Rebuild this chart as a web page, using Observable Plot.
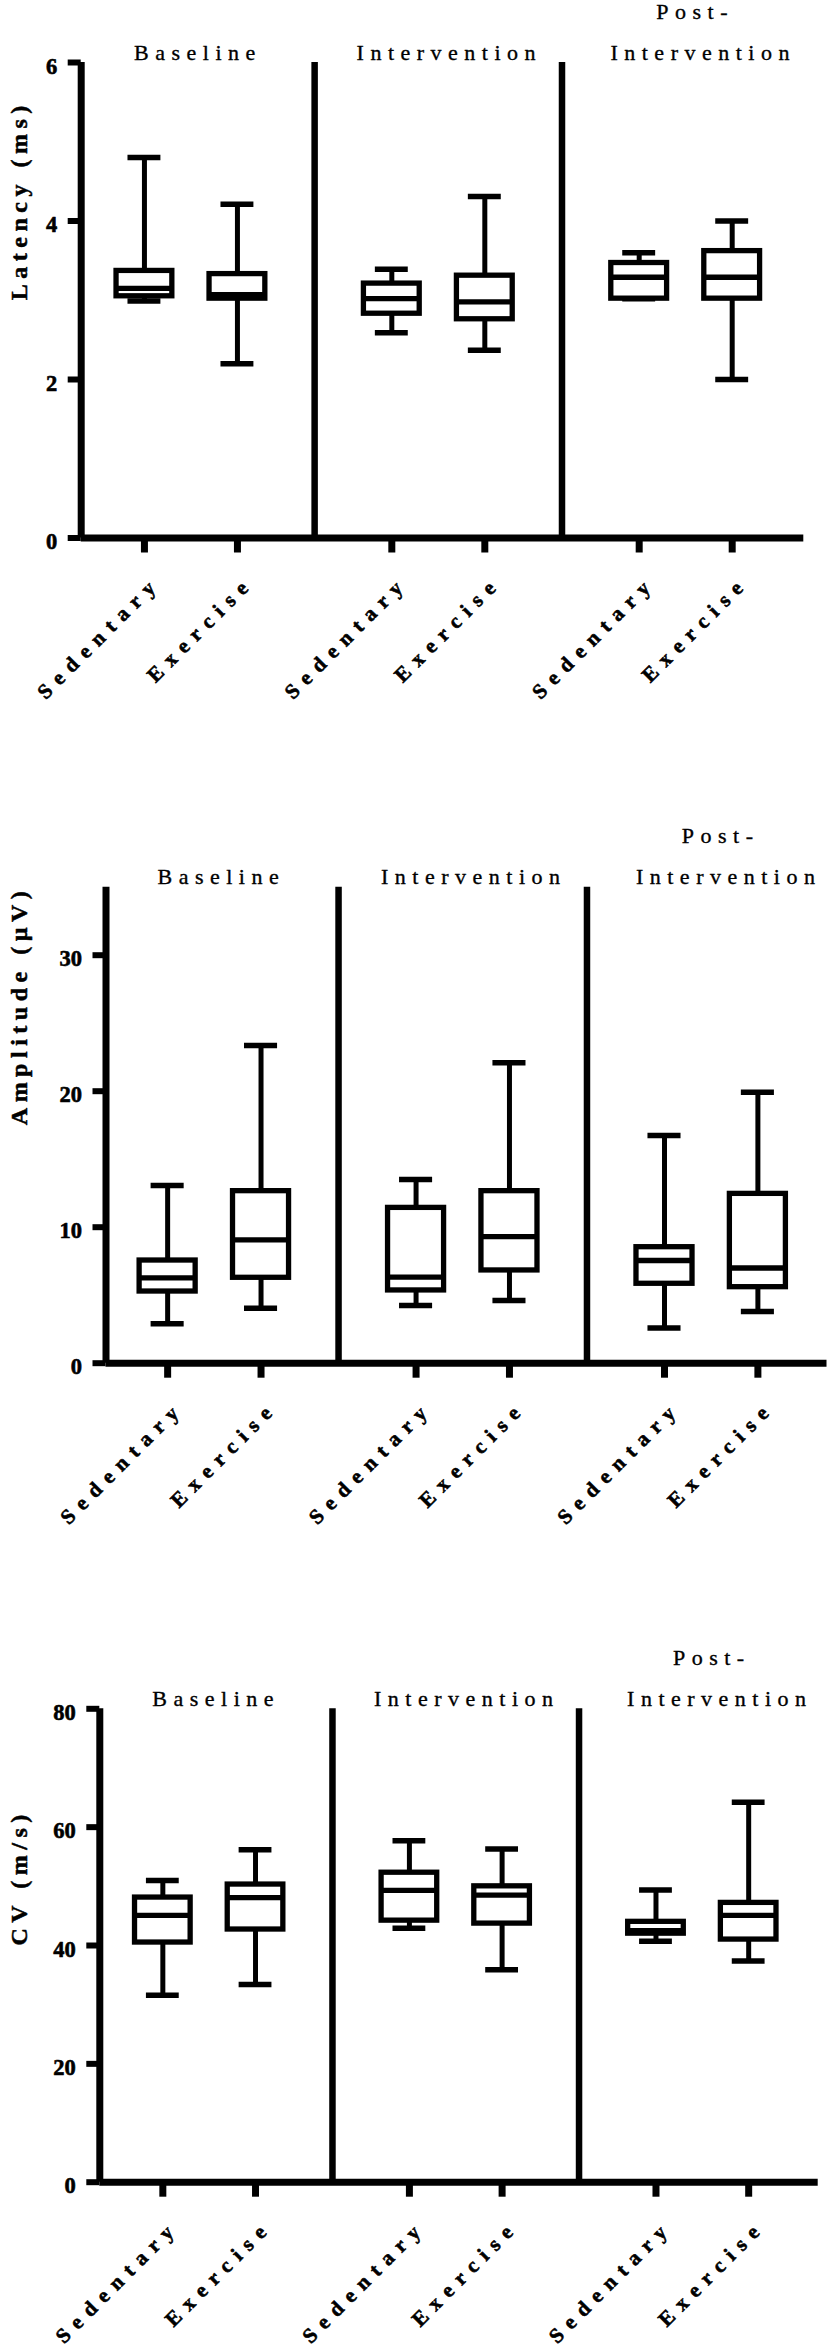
<!DOCTYPE html>
<html>
<head>
<meta charset="utf-8">
<script src="https://cdn.jsdelivr.net/npm/d3@7"></script>
<script src="https://cdn.jsdelivr.net/npm/@observablehq/plot@0.6"></script>
<style>
  body { margin: 0; background: #fff; }
  #chart svg { display: block; }
</style>
</head>
<body>
<div id="chart"></div>
<script>
// ---- Data ----
const groups = ["Baseline", "Intervention", "Post-Intervention"];
const titleTop = ["", "", "Post-"];
const titleBottom = ["Baseline", "Intervention", "Intervention"];
const members = ["Sedentary", "Exercise"];

// order: Baseline-Sed, Baseline-Ex, Interv-Sed, Interv-Ex, Post-Sed, Post-Ex
const latMin = [2.99, 2.20, 2.59, 2.37, 3.02, 2.00];
const latQ1  = [3.05, 3.02, 2.83, 2.76, 3.02, 3.02];
const latMed = [3.15, 3.07, 3.02, 2.98, 3.29, 3.29];
const latQ3  = [3.37, 3.33, 3.21, 3.31, 3.47, 3.62];
const latMax = [4.80, 4.21, 3.39, 4.31, 3.60, 4.00];

const ampMin = [2.9, 4.04, 4.24, 4.61, 2.58, 3.8];
const ampQ1  = [5.27, 6.28, 5.35, 6.82, 5.84, 5.59];
const ampMed = [6.28, 9.07, 6.33, 9.3, 7.55, 7.0];
const ampQ3  = [7.55, 12.65, 11.42, 12.65, 8.53, 12.45];
const ampMax = [13.07, 23.36, 13.5, 22.1, 16.74, 19.93];

const cvMin = [31.6, 33.4, 42.9, 35.9, 40.7, 37.4];
const cvQ1  = [40.5, 42.7, 44.2, 43.7, 42.0, 41.0];
const cvMed = [45.1, 48.1, 49.3, 48.5, 42.5, 45.1];
const cvQ3  = [48.1, 50.3, 52.3, 50.0, 44.0, 47.2];
const cvMax = [51.0, 56.2, 57.7, 56.3, 49.4, 64.2];

const latTicks = [0, 2, 4, 6];
const ampTicks = [0, 10, 20, 30];
const cvTicks = [0, 20, 40, 60, 80];

// ---- Layout ----
const FONT = "Liberation Serif";
const GROUP_STEP = 2.66;
const BOX = 0.30;
const CAP = 0.177;
const titleDx = [7, 11, 17.5];
const titleTopDx = 9.5;
const FS_TITLE = 22, FS_XLAB = 21, FS_YTITLE = 24, FS_TICK = 22.5;
const SPACING = {[FS_TITLE]: "6.5px", [FS_XLAB]: "8.2px", [FS_YTITLE]: "5.5px"};

function panel(cfg) {
  const rows = [];
  groups.forEach((grp, g) => members.forEach((mem, m) => {
    const i = g * 2 + m;
    rows.push({g, member: mem, pos: g * GROUP_STEP + m,
      min: cfg.min[i], q1: cfg.q1[i], med: cfg.med[i], q3: cfg.q3[i], max: cfg.max[i]});
  }));
  const titles = groups.map((grp, g) => ({g, top: titleTop[g], bottom: titleBottom[g], cx: g * GROUP_STEP + 0.5, dx: titleDx[g]}));
  const dividers = [1, 2].map(g => g * GROUP_STEP - (GROUP_STEP - 1) / 2);
  const yTop = cfg.yDomain[1];
  const x0 = cfg.xDomain[0], x1 = cfg.xDomain[1];

  const marks = [
    Plot.ruleX(dividers, {x: d => d, y1: 0, y2: yTop, stroke: "#000", strokeWidth: 6.5}),
    Plot.ruleX(rows, {x: "pos", y1: "min", y2: "q1", stroke: "#000", strokeWidth: 5}),
    Plot.ruleX(rows, {x: "pos", y1: "q3", y2: "max", stroke: "#000", strokeWidth: 5}),
    Plot.ruleY(rows, {y: "min", x1: d => d.pos - CAP, x2: d => d.pos + CAP, stroke: "#000", strokeWidth: 5.5}),
    Plot.ruleY(rows, {y: "max", x1: d => d.pos - CAP, x2: d => d.pos + CAP, stroke: "#000", strokeWidth: 5.5}),
    Plot.rect(rows, {x1: d => d.pos - BOX, x2: d => d.pos + BOX, y1: "q1", y2: "q3", fill: "#fff", stroke: "#000", strokeWidth: 5.3}),
    Plot.ruleY(rows, {y: "med", x1: d => d.pos - BOX, x2: d => d.pos + BOX, stroke: "#000", strokeWidth: 5.3}),
    Plot.ruleX([x0], {y1: 0, y2: yTop, stroke: "#000", strokeWidth: 7}),
    Plot.ruleY([0], {x1: x0, x2: x1, stroke: "#000", strokeWidth: 7}),
    Plot.axisY({ticks: cfg.yTicks, tickSize: 13, strokeWidth: 6, tickFormat: () => "", label: null}),
    Plot.axisY({ticks: cfg.yTicks, tickSize: 0, tickPadding: 24, tickFormat: d => String(d),
      fontSize: FS_TICK, fontWeight: "bold", fontFamily: FONT, dy: 4, label: null, fill: "#000",
      textStroke: "#000", textStrokeWidth: 0.6}),
    Plot.axisX({ticks: rows.map(d => d.pos), tickSize: 15, strokeWidth: 7, tickFormat: () => "", label: null}),
    Plot.text(rows, {x: "pos", frameAnchor: "bottom", text: "member", rotate: -45,
      textAnchor: "end", lineAnchor: "middle", dx: 13, dy: 41,
      fontSize: FS_XLAB, fontWeight: "bold", fontFamily: FONT, fill: "#000", stroke: "#000", strokeWidth: 0.6}),
    ...titles.map(t => Plot.text([t], {x: "cx", frameAnchor: "top", text: "bottom", lineAnchor: "bottom",
      fontSize: FS_TITLE, fontFamily: FONT, fill: "#000", stroke: "#000", strokeWidth: 0.35, dy: -3, dx: t.dx})),
    Plot.text(titles.filter(d => d.top), {x: "cx", frameAnchor: "top", text: "top", lineAnchor: "bottom",
      fontSize: FS_TITLE, fontFamily: FONT, fill: "#000", stroke: "#000", strokeWidth: 0.35, dy: -44, dx: titleTopDx}),
    Plot.text([cfg.label], {frameAnchor: "left", text: d => d, rotate: -90, lineAnchor: "middle",
      dx: 19 - cfg.marginLeft, fontSize: FS_YTITLE, fontWeight: "bold", fontFamily: FONT, fill: "#000",
      stroke: "#000", strokeWidth: 0.5})
  ];

  const svg = Plot.plot({
    width: 832,
    height: cfg.height,
    marginTop: cfg.marginTop,
    marginBottom: cfg.marginBottom,
    marginLeft: cfg.marginLeft,
    marginRight: cfg.marginRight,
    x: {domain: cfg.xDomain, axis: null},
    y: {domain: cfg.yDomain, axis: null},
    style: {fontFamily: FONT, background: "#fff", color: "#000", overflow: "visible"},
    marks
  });

  d3.select(svg).selectAll("g").each(function() {
    const fs = this.getAttribute("font-size");
    if (fs && SPACING[fs]) d3.select(this).selectAll("text").attr("letter-spacing", SPACING[fs]);
  });
  return svg;
}

const chart = document.getElementById("chart");
chart.appendChild(panel({
  height: 780, marginTop: 62, marginBottom: 242.5, marginLeft: 80.7, marginRight: 28.7,
  xDomain: [-0.68, 7.09], yDomain: [0, 6], yTicks: latTicks,
  min: latMin, q1: latQ1, med: latMed, q3: latQ3, max: latMax, label: "Latency (ms)"
}));
chart.appendChild(panel({
  height: 780, marginTop: 106.7, marginBottom: 197.3, marginLeft: 105.5, marginRight: 5.5,
  xDomain: [-0.66, 7.06], yDomain: [0, 35], yTicks: ampTicks,
  min: ampMin, q1: ampQ1, med: ampMed, q3: ampQ3, max: ampMax, label: "Amplitude (µV)"
}));
chart.appendChild(panel({
  height: 785, marginTop: 148.3, marginBottom: 163.3, marginLeft: 99.3, marginRight: 14.3,
  xDomain: [-0.68, 7.07], yDomain: [0, 80], yTicks: cvTicks,
  min: cvMin, q1: cvQ1, med: cvMed, q3: cvQ3, max: cvMax, label: "CV (m/s)"
}));
</script>
</body>
</html>
